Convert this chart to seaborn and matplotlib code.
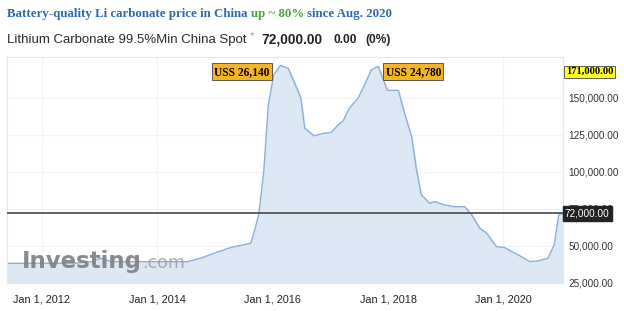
import matplotlib
matplotlib.use("Agg")
import matplotlib.pyplot as plt
import seaborn as sns
import pandas as pd

dates = ["2011-05-26", "2011-10-01", "2012-03-01", "2012-08-01", "2012-11-15", "2013-01-05",
         "2013-03-15", "2013-10-01", "2014-03-01", "2014-07-10", "2014-10-01", "2014-12-24",
         "2015-04-08", "2015-08-15", "2015-09-01", "2015-10-05", "2015-11-06", "2015-12-05",
         "2016-01-08", "2016-02-20", "2016-04-08", "2016-05-15", "2016-06-28", "2016-07-22",
         "2016-09-20", "2016-11-20", "2017-01-05", "2017-02-20", "2017-03-22", "2017-05-01",
         "2017-06-25", "2017-08-05", "2017-09-17", "2017-10-30", "2017-12-28", "2018-03-07",
         "2018-04-12", "2018-05-30", "2018-06-28", "2018-07-30", "2018-09-20", "2018-10-23",
         "2018-12-25", "2019-02-25", "2019-05-01", "2019-06-14", "2019-08-04", "2019-09-17",
         "2019-11-18", "2020-01-08", "2020-04-05", "2020-06-17", "2020-08-07", "2020-10-08",
         "2020-11-17", "2020-12-16", "2021-01-12"]
prices = [38300, 38300, 38300, 38400, 39500, 41700,
          39500, 39400, 39400, 39400, 41700, 45000,
          48900, 51800, 57400, 71000, 100200, 145300,
          165500, 171800, 170000, 161000, 149800, 129500,
          124300, 126100, 126600, 131800, 134500, 143000,
          149800, 158800, 168900, 171200, 155000, 155000,
          140700, 123800, 102500, 84500, 78900, 79900,
          77700, 76500, 76500, 71000, 62000, 58600,
          49500, 48900, 43900, 39400, 39900, 41700,
          50700, 71000, 72000]
ytick_vals = [25000, 50000, 75000, 100000, 125000, 150000]
xtick_dates = ["2012-01-01", "2014-01-01", "2016-01-01", "2018-01-01", "2020-01-01"]
xtick_labels = ["Jan 1, 2012", "Jan 1, 2014", "Jan 1, 2016", "Jan 1, 2018", "Jan 1, 2020"]
last_price = 72000
high_price = 171000

df = pd.DataFrame({"date": pd.to_datetime(dates), "price": prices})

sns.set_style("white")
fig = plt.figure(figsize=(6.24, 3.11), dpi=100)
ax = fig.add_axes([7/624, 28/311, 556/624, 226/311])

sns.lineplot(data=df, x="date", y="price", ax=ax, color="#8db1d6", linewidth=1.0)
ax.fill_between(df["date"], df["price"], 0, color="#dce8f3", zorder=1)

ax.set_xlim(df["date"].iloc[0], df["date"].iloc[-1])
ax.set_ylim(25000, 177500)
ax.set_xlabel("")
ax.set_ylabel("")

ax.yaxis.tick_right()
ax.set_yticks(ytick_vals)
ax.set_yticklabels([f"{v:,.2f}" for v in ytick_vals], fontsize=7.2, color="#333333",
                   family="Liberation Sans")
ax.tick_params(axis="y", length=0, pad=4)
ax.set_xticks(pd.to_datetime(xtick_dates))
ax.set_xticklabels(xtick_labels, fontsize=7.8, color="#222222", family="Liberation Sans")
ax.tick_params(axis="x", length=0, pad=8)
ax.grid(True, color="#f3f3f3", linewidth=0.8)
ax.set_axisbelow(True)
for s in ax.spines.values():
    s.set_color("#e6e6e6")
    s.set_linewidth(0.8)

ax.axhline(last_price, color="#555555", linewidth=1.3, zorder=3)

# labels
ax.text(1.0 + 2/556, last_price, f"{last_price:,.2f}", transform=ax.get_yaxis_transform(),
        va="center", ha="left", fontsize=7.2, color="white", family="Liberation Sans",
        bbox=dict(boxstyle="square,pad=0.25", fc="#222222", ec="#222222"), zorder=5, clip_on=False)
ax.text(1.0 + 3/556, 0.935, f"{high_price:,.2f}", transform=ax.transAxes,
        va="center", ha="left", fontsize=7.6, color="black", family="Liberation Serif",
        fontweight="bold",
        bbox=dict(boxstyle="square,pad=0.15", fc="#ffff2e", ec="#444444", lw=0.6), clip_on=False)
ax.text(pd.Timestamp("2015-06-20"), 0.935, "USS 26,140", transform=ax.get_xaxis_transform(),
        va="center", ha="center", fontsize=8.3, color="black", family="Liberation Serif",
        fontweight="bold",
        bbox=dict(boxstyle="square,pad=0.2", fc="#f6b522", ec="#444444", lw=0.6))
ax.text(pd.Timestamp("2018-06-10"), 0.935, "USS 24,780", transform=ax.get_xaxis_transform(),
        va="center", ha="center", fontsize=8.3, color="black", family="Liberation Serif",
        fontweight="bold",
        bbox=dict(boxstyle="square,pad=0.2", fc="#f6b522", ec="#444444", lw=0.6))

# watermark
wm = ax.text(0.027, 0.045, "Investing", transform=ax.transAxes, fontsize=16.5, fontweight="bold",
             color="#7f7f7f", alpha=0.9, family="DejaVu Sans", va="bottom", ha="left", zorder=4)
fig.canvas.draw()
wb = wm.get_window_extent()
fig.text(wb.x1 / 624, wb.y0 / 311 + 0.004, ".com", fontsize=12.5,
         color="#9a9a9a", alpha=0.8, family="DejaVu Sans", va="bottom", ha="left", zorder=4)


def row(parts, y, x0):
    x = x0
    for txt, kw, dx, dy in parts:
        t = fig.text((x + dx) / 624, 1 - (y + dy) / 311, txt, va="center", ha="left", **kw)
        fig.canvas.draw()
        x = t.get_window_extent().x1


serif_b = dict(fontsize=9.3, fontweight="bold", family="Liberation Serif")
row([("Battery-quality Li carbonate price in China ", dict(color="#2e69b0", **serif_b), 0, 0),
     ("up ~ 80% ", dict(color="#4aa43b", **serif_b), 0, 0),
     ("since Aug. 2020", dict(color="#2e69b0", **serif_b), 0, 0)], 14, 7)

row([("Lithium Carbonate 99.5%Min China Spot", dict(fontsize=9.5, family="Liberation Sans",
                                                     color="#2a2a2a"), 0, 0),
     ("*", dict(fontsize=8, family="Liberation Sans", color="#999999"), 3, -4),
     ("72,000.00", dict(fontsize=9.9, fontweight="bold", family="Liberation Sans",
                        color="#222222"), 8, 0),
     ("0.00", dict(fontsize=8.6, fontweight="bold", family="Liberation Sans",
                   color="#222222"), 10, 0),
     ("(0%)", dict(fontsize=8.6, fontweight="bold", family="Liberation Sans",
                   color="#222222"), 9, 0)], 40, 7)

fig.savefig("out.png", dpi=100)
